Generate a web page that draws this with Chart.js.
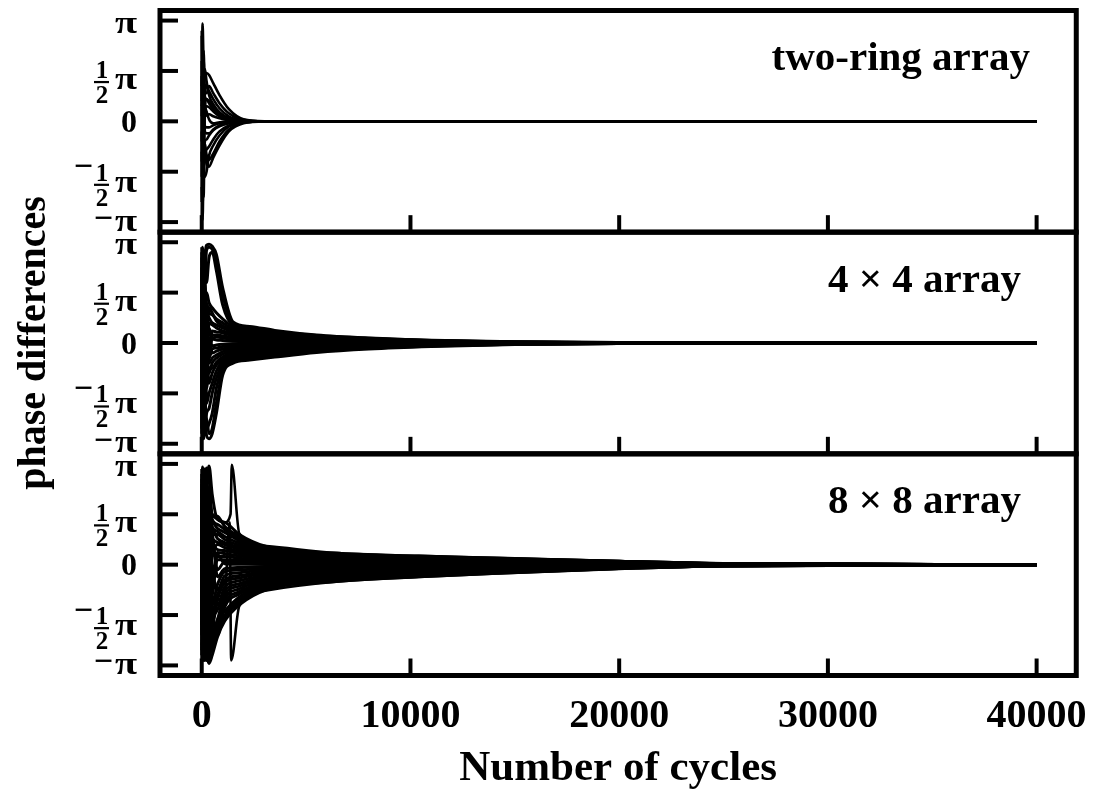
<!DOCTYPE html>
<html><head><meta charset="utf-8">
<script src="https://cdn.jsdelivr.net/npm/chart.js@4.4.1/dist/chart.umd.min.js"></script>
<style>html,body{margin:0;padding:0;background:#fff;}#wrap{position:relative;width:1101px;height:794px;}</style>
</head><body><div id="wrap"><canvas id="c"></canvas></div>
<script>
const FONT = "'Liberation Serif','Times New Roman',serif";
const xTickValues = [0, 10000, 20000, 30000, 40000];
const xTickLabels = ['0', '10000', '20000', '30000', '40000'];
const yTickValues = [-1, -0.5, 0, 0.5, 1];
const yTickLabels = ['−π', '−½π', '0', '½π', 'π'];
const panelTitles = ['two-ring array', '4 × 4 array', '8 × 8 array'];
const xAxisTitle = 'Number of cycles';
const yAxisTitle = 'phase differences';

// values are phase differences in units of π
const xTop = [0, 40, 90, 150, 230, 350, 550, 850, 1300, 2000, 3000, 40000];
const topSeries = [
  [0.20, 0.97, 0.55, 0.45, 0.48, 0.46, 0.38, 0.26, 0.12, 0.02, 0.00, 0],
  [-0.10, -0.98, -0.40, -0.30, -0.42, -0.45, -0.36, -0.24, -0.10, -0.02, 0.00, 0],
  [0.60, -0.70, 0.20, 0.36, 0.34, 0.30, 0.22, 0.13, 0.05, 0.01, 0, 0],
  [-0.55, 0.65, -0.20, -0.30, -0.28, -0.25, -0.18, -0.10, -0.04, -0.01, 0, 0],
  [0.85, 0.10, 0.62, 0.25, 0.22, 0.18, 0.12, 0.06, 0.02, 0.005, 0, 0],
  [-0.80, -0.15, -0.60, -0.20, -0.18, -0.14, -0.09, -0.05, -0.02, 0, 0, 0],
  [0.35, 0.50, -0.25, 0.12, 0.15, 0.14, 0.10, 0.05, 0.02, 0, 0, 0],
  [-0.30, -0.45, 0.30, -0.10, -0.12, -0.12, -0.08, -0.04, -0.015, 0, 0, 0],
  [0.05, 0.75, 0.40, 0.30, 0.28, 0.35, 0.28, 0.18, 0.08, 0.015, 0, 0],
  [-0.65, -0.85, -0.30, -0.22, -0.33, -0.38, -0.32, -0.20, -0.08, -0.015, 0, 0],
  [0.45, -0.35, 0.10, 0.05, 0.06, 0.07, 0.05, 0.03, 0.01, 0, 0, 0],
  [-0.20, 0.30, -0.10, -0.05, -0.06, -0.06, -0.04, -0.02, -0.01, 0, 0, 0],
  [0.90, -0.90, 0.35, 0.52, 0.40, 0.26, 0.17, 0.09, 0.03, 0.005, 0, 0],
  [-0.95, 0.80, -0.50, -0.55, -0.50, -0.34, -0.24, -0.14, -0.05, -0.01, 0, 0],
  [0.15, 0.25, 0.70, 0.20, 0.10, 0.02, -0.02, -0.01, 0, 0, 0, 0],
  [-0.40, -0.20, -0.75, 0.15, 0.22, 0.20, 0.15, 0.08, 0.03, 0.005, 0, 0]
];

const xMid = [0, 40, 90, 150, 230, 350, 500, 700, 1000, 1500, 2300, 3500, 5500, 8000, 11000, 15000, 20000, 40000];
const midSeries = [
  [0.3, 0.95, 0.6, 0.85, 0.97, 0.98, 0.96, 0.88, 0.55, 0.21, 0.165, 0.125, 0.08, 0.05, 0.028, 0.012, 0.004, 0],
  [-0.5, 0.4, 0.9, 0.7, 0.92, 0.95, 0.93, 0.82, 0.48, 0.193, 0.152, 0.115, 0.074, 0.046, 0.026, 0.011, 0.004, 0],
  [0.7, -0.2, 0.3, 0.9, 0.6, 0.85, 0.9, 0.72, 0.38, 0.174, 0.137, 0.104, 0.066, 0.042, 0.023, 0.01, 0.003, 0],
  [-0.9, 0.6, -0.4, 0.2, 0.5, 0.4, 0.35, 0.3, 0.24, 0.158, 0.124, 0.094, 0.06, 0.038, 0.021, 0.009, 0.003, 0],
  [0.1, -0.8, 0.5, -0.3, 0.4, 0.3, 0.28, 0.24, 0.2, 0.139, 0.109, 0.083, 0.053, 0.033, 0.018, 0.008, 0.003, 0],
  [0.85, 0.2, -0.6, 0.45, 0.1, 0.35, 0.3, 0.22, 0.17, 0.122, 0.096, 0.073, 0.046, 0.029, 0.016, 0.007, 0.002, 0],
  [-0.3, 0.7, 0.2, -0.5, 0.3, 0.25, 0.2, 0.18, 0.15, 0.105, 0.083, 0.063, 0.04, 0.025, 0.014, 0.006, 0.002, 0],
  [0.55, -0.45, 0.8, 0.1, -0.2, 0.2, 0.18, 0.15, 0.12, 0.088, 0.069, 0.053, 0.034, 0.021, 0.012, 0.005, 0.002, 0],
  [-0.7, 0.3, -0.1, 0.6, 0.15, -0.1, 0.12, 0.11, 0.1, 0.069, 0.054, 0.041, 0.026, 0.017, 0.009, 0.004, 0.001, 0],
  [0.2, -0.95, 0.4, -0.2, 0.25, 0.1, 0.08, 0.08, 0.07, 0.053, 0.041, 0.031, 0.02, 0.013, 0.007, 0.003, 0.001, 0],
  [0.95, 0.1, -0.3, 0.35, -0.15, 0.15, 0.05, 0.06, 0.05, 0.036, 0.028, 0.021, 0.014, 0.009, 0.005, 0.002, 0.001, 0],
  [-0.15, 0.5, 0.65, -0.6, 0.2, -0.1, 0.04, 0.03, 0.025, 0.017, 0.013, 0.01, 0.006, 0.004, 0.002, 0.001, 0, 0],
  [0.4, -0.6, -0.85, 0.3, -0.25, 0.05, -0.03, -0.02, -0.012, -0.008, -0.007, -0.006, -0.004, -0.002, -0.001, -0.001, 0, 0],
  [-0.6, 0.85, 0.1, -0.4, 0.1, -0.15, -0.06, -0.05, -0.035, -0.024, -0.02, -0.017, -0.011, -0.007, -0.004, -0.002, -0.001, 0],
  [0.65, -0.3, 0.45, 0.55, -0.3, 0.05, -0.1, -0.08, -0.06, -0.04, -0.034, -0.028, -0.019, -0.012, -0.007, -0.003, -0.001, 0],
  [-0.25, 0.15, -0.7, -0.1, 0.35, -0.2, -0.15, -0.12, -0.085, -0.058, -0.049, -0.041, -0.028, -0.017, -0.01, -0.004, -0.001, 0],
  [0.75, -0.55, 0.25, -0.75, -0.1, -0.3, -0.2, -0.15, -0.11, -0.074, -0.063, -0.052, -0.035, -0.022, -0.013, -0.006, -0.002, 0],
  [-0.85, 0.45, -0.2, 0.15, -0.45, -0.25, -0.25, -0.19, -0.14, -0.092, -0.078, -0.064, -0.044, -0.028, -0.016, -0.007, -0.002, 0],
  [0.05, -0.75, 0.6, -0.45, -0.2, -0.4, -0.3, -0.22, -0.16, -0.108, -0.092, -0.076, -0.051, -0.032, -0.019, -0.008, -0.003, 0],
  [0.5, 0.3, -0.5, 0.7, -0.6, -0.5, -0.4, -0.28, -0.18, -0.124, -0.105, -0.087, -0.059, -0.037, -0.022, -0.009, -0.003, 0],
  [-0.4, -0.9, 0.15, -0.85, -0.7, -0.65, -0.5, -0.35, -0.21, -0.142, -0.121, -0.099, -0.067, -0.043, -0.025, -0.011, -0.004, 0],
  [0.9, -0.1, -0.95, -0.5, -0.85, -0.8, -0.7, -0.45, -0.24, -0.158, -0.134, -0.111, -0.075, -0.047, -0.028, -0.012, -0.004, 0],
  [-0.95, 0.6, -0.35, -0.9, -0.75, -0.9, -0.85, -0.6, -0.28, -0.176, -0.15, -0.123, -0.084, -0.053, -0.031, -0.013, -0.004, 0],
  [0.15, -0.4, -0.8, -0.6, -0.92, -0.95, -0.9, -0.7, -0.32, -0.2, -0.17, -0.14, -0.095, -0.06, -0.035, -0.015, -0.005, 0]
];

const xBot = [0, 40, 90, 150, 230, 350, 500, 750, 1100, 1800, 3100, 6300, 10400, 14200, 20000, 25000, 40000];
const botSeries = [
  [0.4, 0.97, 0.7, 0.95, 0.9, 0.98, 0.7, 0.45, 0.42, 0.30, 0.18, 0.115, 0.085, 0.065, 0.035, 0.012, 0],
  [-0.6, 0.5, 0.95, 0.3, 0.96, 0.85, 0.5, 0.48, 0.38, 0.28, 0.167, 0.107, 0.079, 0.06, 0.033, 0.011, 0],
  [0.8, -0.3, 0.2, 0.9, 0.5, 0.7, 0.45, 0.4, 0.35, 0.258, 0.155, 0.099, 0.073, 0.056, 0.03, 0.01, 0],
  [-0.2, 0.85, -0.5, 0.4, 0.75, 0.3, 0.42, 0.36, 0.32, 0.237, 0.142, 0.091, 0.067, 0.051, 0.028, 0.009, 0],
  [0.95, 0.1, 0.6, -0.7, 0.2, 0.55, 0.38, 0.33, 0.28, 0.213, 0.128, 0.082, 0.06, 0.046, 0.025, 0.009, 0],
  [-0.85, -0.5, 0.3, 0.6, -0.4, 0.4, 0.3, 0.3, 0.25, 0.192, 0.115, 0.074, 0.054, 0.042, 0.022, 0.008, 0],
  [0.25, 0.7, -0.8, 0.1, 0.6, -0.2, 0.35, 0.26, 0.22, 0.171, 0.103, 0.066, 0.048, 0.037, 0.02, 0.007, 0],
  [0.6, -0.9, 0.45, -0.35, 0.3, 0.2, 0.25, 0.22, 0.2, 0.15, 0.09, 0.058, 0.043, 0.033, 0.018, 0.006, 0],
  [-0.45, 0.35, 0.85, 0.7, -0.6, 0.45, 0.15, 0.2, 0.17, 0.129, 0.077, 0.049, 0.037, 0.028, 0.015, 0.005, 0],
  [0.1, -0.65, -0.2, -0.9, 0.45, -0.3, 0.2, 0.15, 0.14, 0.108, 0.065, 0.041, 0.031, 0.023, 0.013, 0.004, 0],
  [0.75, 0.2, 0.55, 0.25, -0.2, 0.3, -0.1, 0.12, 0.11, 0.087, 0.052, 0.033, 0.025, 0.019, 0.01, 0.003, 0],
  [-0.95, 0.6, -0.4, 0.8, 0.1, -0.45, 0.1, 0.08, 0.08, 0.063, 0.038, 0.024, 0.018, 0.014, 0.007, 0.003, 0],
  [0.35, -0.25, 0.9, -0.55, -0.75, 0.15, -0.2, 0.05, 0.05, 0.042, 0.025, 0.016, 0.012, 0.009, 0.005, 0.002, 0],
  [-0.3, 0.9, -0.65, 0.5, 0.35, -0.1, 0.25, -0.05, 0.03, 0.021, 0.013, 0.008, 0.006, 0.005, 0.002, 0.001, 0],
  [0.55, -0.75, 0.15, -0.15, 0.8, 0.6, -0.3, 0.1, 0.01, 0.004, 0.002, 0.001, 0.001, 0.001, 0, 0, 0],
  [-0.7, 0.45, -0.9, 0.65, -0.3, -0.55, 0.3, -0.12, -0.04, -0.028, -0.018, -0.012, -0.008, -0.006, -0.003, -0.001, 0],
  [0.9, -0.4, 0.3, -0.8, 0.55, 0.25, -0.4, -0.2, -0.07, -0.052, -0.033, -0.022, -0.016, -0.011, -0.005, -0.002, 0],
  [-0.15, 0.75, 0.6, 0.2, -0.85, -0.65, -0.1, -0.25, -0.11, -0.08, -0.05, -0.034, -0.024, -0.017, -0.008, -0.003, 0],
  [0.45, -0.85, -0.35, 0.9, 0.15, 0.35, -0.5, -0.3, -0.15, -0.108, -0.068, -0.046, -0.032, -0.023, -0.011, -0.004, 0],
  [-0.55, 0.15, 0.75, -0.45, 0.65, -0.4, -0.6, -0.35, -0.18, -0.132, -0.083, -0.056, -0.04, -0.028, -0.013, -0.005, 0],
  [0.2, -0.6, -0.75, 0.35, -0.5, 0.5, -0.3, -0.4, -0.22, -0.16, -0.1, -0.068, -0.048, -0.034, -0.016, -0.006, 0],
  [-0.9, 0.3, 0.1, -0.65, 0.9, -0.75, -0.55, -0.45, -0.26, -0.188, -0.118, -0.08, -0.056, -0.04, -0.019, -0.007, 0],
  [0.7, -0.15, -0.55, 0.55, -0.2, -0.85, -0.7, -0.55, -0.3, -0.212, -0.133, -0.09, -0.064, -0.045, -0.021, -0.007, 0],
  [-0.35, 0.95, 0.4, -0.3, -0.7, 0.1, -0.65, -0.6, -0.34, -0.24, -0.15, -0.102, -0.072, -0.051, -0.024, -0.008, 0],
  [0.05, -0.95, -0.1, -0.95, 0.4, -0.6, -0.75, -0.65, -0.38, -0.268, -0.168, -0.114, -0.08, -0.057, -0.027, -0.009, 0],
  [0.85, 0.55, -0.85, 0.75, -0.95, -0.35, -0.5, -0.7, -0.42, -0.292, -0.183, -0.124, -0.088, -0.062, -0.029, -0.01, 0],
  [-0.65, -0.2, 0.65, -0.6, 0.25, -0.9, -0.8, -0.55, -0.46, -0.32, -0.2, -0.136, -0.096, -0.068, -0.032, -0.011, 0],
  [0.3, 0.8, -0.45, 0.05, -0.6, -0.95, -0.7, -0.6, -0.5, -0.348, -0.218, -0.148, -0.104, -0.074, -0.035, -0.012, 0],
  [-0.8, -0.7, 0.5, -0.85, -0.9, -0.7, -0.85, -0.65, -0.52, -0.372, -0.233, -0.158, -0.112, -0.079, -0.037, -0.013, 0],
  [0.6, -0.35, -0.95, -0.4, -0.8, -0.98, -0.9, -0.72, -0.56, -0.40, -0.25, -0.17, -0.12, -0.085, -0.04, -0.014, 0]
];
const spikeAX = [0, 40, 90, 150, 230, 350, 500, 750, 1100, 1380, 1440, 1800, 3100, 6300, 10400, 14200, 20000, 25000, 40000];
const spikeAY = [0.2, -0.5, 0.8, 0.1, -0.9, 0.6, 0.5, 0.45, 0.42, 0.5, 0.99, 0.31, 0.185, 0.118, 0.087, 0.066, 0.036, 0.012, 0];
const spikeBX = [0, 40, 90, 150, 230, 350, 500, 750, 1100, 1340, 1410, 1800, 3100, 6300, 10400, 14200, 20000, 25000, 40000];
const spikeBY = [-0.4, 0.7, -0.6, -0.95, 0.3, -0.2, -0.45, -0.35, -0.3, 0.42, -0.95, -0.41, -0.255, -0.172, -0.122, -0.086, -0.04, -0.014, 0];

function mk(xs, ys, axis, w) {
  return { data: xs.map((x, i) => ({ x: x, y: ys[i] })), yAxisID: axis, borderColor: '#000',
    borderWidth: w, pointRadius: 0, cubicInterpolationMode: 'monotone', fill: false };
}
const datasets = [];
topSeries.forEach(s => datasets.push(mk(xTop, s, 'yTop', 2.6)));
midSeries.forEach(s => datasets.push(mk(xMid, s, 'yMid', 3)));
botSeries.forEach(s => datasets.push(mk(xBot, s, 'yBot', 3)));
datasets.push(mk(spikeAX, spikeAY, 'yBot', 2.6));
datasets.push(mk(spikeBX, spikeBY, 'yBot', 2.6));

function drawPi(ctx, xr, base) {
  ctx.save(); ctx.translate(xr, base); ctx.scale(1.3, 1);
  ctx.font = 'bold 31px ' + FONT; ctx.textAlign = 'right'; ctx.textBaseline = 'alphabetic';
  ctx.fillText('π', 0, 0); ctx.restore();
}
function drawMinus(ctx, xr, cy) {
  ctx.font = 'bold 34px ' + FONT; ctx.textAlign = 'right'; ctx.textBaseline = 'alphabetic';
  ctx.fillText('−', xr, cy + 8.5);
}
function drawYLabel(ctx, label, t, R) {
  const neg = label[0] === '−';
  const body = neg ? label.slice(1) : label;
  if (body === '0') {
    ctx.font = 'bold 32px ' + FONT; ctx.textAlign = 'right'; ctx.textBaseline = 'alphabetic';
    ctx.fillText('0', R, t + 10.5); return;
  }
  if (body === 'π') { drawPi(ctx, R, t + (neg ? 8.5 : 12)); if (neg) drawMinus(ctx, R - 24, t - 1.5); return; }
  const d = neg ? 2 : 0;
  drawPi(ctx, R, t + 18 + d);
  ctx.font = 'bold 25px ' + FONT; ctx.textAlign = 'center'; ctx.textBaseline = 'alphabetic';
  ctx.fillText(body[0] === '½' ? '1' : body[0], R - 35, t + 7 + d);
  ctx.fillText('2', R - 35, t + 32 + d);
  ctx.fillRect(R - 43, t + 10 + d, 15, 2.2);
  if (neg) drawMinus(ctx, R - 44, t - 3);
}

const titleRight = [1030, 1021, 1021];
const framePlugin = {
  id: 'frame',
  afterDraw(chart) {
    const ctx = chart.ctx, xs = chart.scales.x;
    ['yTop', 'yMid', 'yBot'].forEach((id, k) => {
      const s = chart.scales[id];
      ctx.save();
      ctx.strokeStyle = '#000'; ctx.fillStyle = '#000';
      ctx.lineWidth = 5;
      ctx.strokeRect(xs.left, s.top, xs.right - xs.left, s.bottom - s.top);
      ctx.lineWidth = 4;
      yTickValues.forEach(v => { const p = s.getPixelForValue(v); ctx.beginPath(); ctx.moveTo(xs.left, p); ctx.lineTo(xs.left + 18, p); ctx.stroke(); });
      xTickValues.forEach(v => { const p = xs.getPixelForValue(v); ctx.beginPath(); ctx.moveTo(p, s.bottom); ctx.lineTo(p, s.bottom - 17); ctx.stroke(); });
      yTickValues.forEach((v, i) => drawYLabel(ctx, yTickLabels[i], s.getPixelForValue(v), xs.left - 23));
      ctx.font = 'bold 41px ' + FONT; ctx.textAlign = 'right'; ctx.textBaseline = 'alphabetic';
      ctx.fillText(panelTitles[k], titleRight[k], s.top + 59.5);
      ctx.restore();
    });
  }
};

function yScale(extra) {
  return Object.assign({
    type: 'linear', position: 'left', stack: 'phase', stackWeight: 1, min: -1.1, max: 1.1,
    afterBuildTicks: s => { s.ticks = yTickValues.map(v => ({ value: v })); },
    afterFit: s => { s.width = 160; },
    ticks: { display: false }, grid: { display: false }, border: { display: false }
  }, extra || {});
}

new Chart(document.getElementById('c'), {
  type: 'line',
  data: { datasets: datasets },
  options: {
    responsive: true, maintainAspectRatio: false, animation: false, events: [],
    layout: { padding: { top: 10.5, right: 20.5, bottom: 0, left: 0 } },
    plugins: { legend: { display: false }, tooltip: { enabled: false } },
    scales: {
      x: {
        type: 'linear', position: 'bottom', min: -2000, max: 41900,
        afterBuildTicks: s => { s.ticks = xTickValues.map(v => ({ value: v })); },
        afterFit: s => { s.height = 118.5; },
        grid: { display: false }, border: { display: false },
        ticks: { color: '#000', padding: 13.5, maxRotation: 0, autoSkip: false,
          font: { family: FONT, size: 40, weight: 'bold', lineHeight: 1 },
          callback: v => { const i = xTickValues.indexOf(v); return i >= 0 ? xTickLabels[i] : ''; } },
        title: { display: true, text: xAxisTitle, color: '#000',
          font: { family: FONT, size: 43, weight: 'bold', lineHeight: 1 }, padding: { top: 0, bottom: 4 } }
      },
      yBot: yScale(),
      yMid: yScale({ title: { display: true, text: yAxisTitle, color: '#000',
        font: { family: FONT, size: 40, weight: 'bold', lineHeight: 1 }, padding: { top: 15, bottom: 0 } } }),
      yTop: yScale()
    }
  },
  plugins: [framePlugin]
});
</script></body></html>
